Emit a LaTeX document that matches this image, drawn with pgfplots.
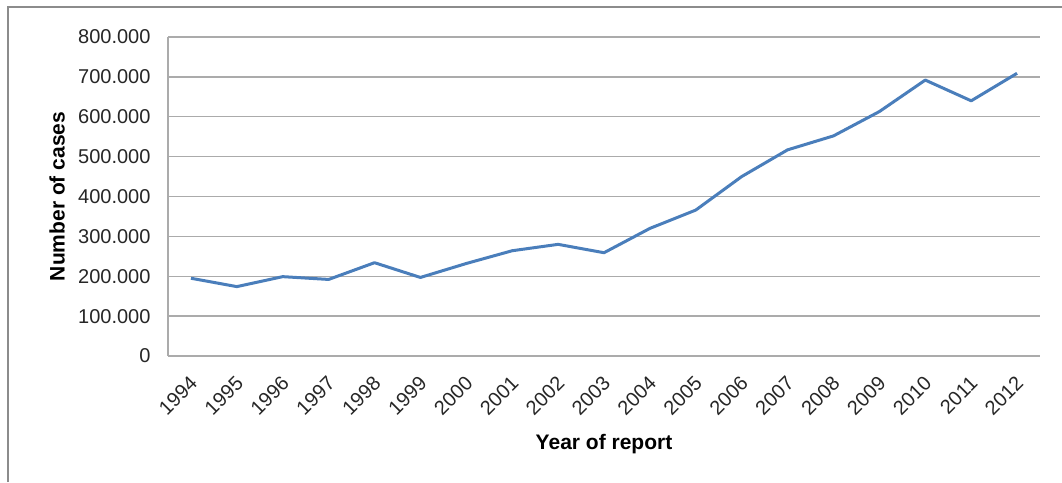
\documentclass[border=0pt]{standalone}
\usepackage{fontspec}
\setmainfont{Liberation Sans}
\usepackage{pgfplots}
\pgfplotsset{compat=1.18}
\definecolor{linecol}{HTML}{4A7EBB}
\definecolor{gridcol}{HTML}{ABABAB}
\definecolor{framecol}{HTML}{8C8C8C}
\begin{document}
\begin{tikzpicture}[x=1pt,y=1pt]
\path[use as bounding box] (0,0) rectangle (1062,482);
\draw[framecol, line width=2pt] (8,0) -- (8,475) -- (1062,475);
\begin{axis}[
  at={(168pt,126pt)}, anchor=south west,
  scale only axis, width=872pt, height=319pt,
  xmin=1993.5, xmax=2012.5, ymin=0, ymax=800000,
  axis x line*=bottom, axis y line*=left,
  axis line style={gridcol, line width=1.3pt, -},
  ytick={0,100000,200000,300000,400000,500000,600000,700000,800000},
  yticklabels={0,100.000,200.000,300.000,400.000,500.000,600.000,700.000,800.000},
  scaled y ticks=false,
  xtick={1994,1995,1996,1997,1998,1999,2000,2001,2002,2003,2004,2005,2006,2007,2008,2009,2010,2011,2012},
  xticklabels={1994,1995,1996,1997,1998,1999,2000,2001,2002,2003,2004,2005,2006,2007,2008,2009,2010,2011,2012},
  major tick length=0pt,
  ymajorgrids, grid style={gridcol, line width=1.3pt},
  tick label style={font=\fontsize{20}{24}\selectfont, text=black!85},
  yticklabel style={xshift=-14pt},
  xticklabel style={rotate=45, anchor=east, inner sep=0pt, xshift=-15pt, yshift=-19pt},
  every axis y label/.style={at={(rel axis cs:0,0.5)}, xshift=-111pt, rotate=90, anchor=center, font=\fontsize{21}{25}\bfseries},
  every axis x label/.style={at={(rel axis cs:0.5,0)}, yshift=-93pt, anchor=base, font=\fontsize{21}{25}\bfseries},
  ylabel={Number of cases},
  xlabel={Year of report},
  clip=false,
]
\addplot[linecol, line width=3pt, line join=round] coordinates {
(1994,195000) (1995,174000) (1996,199000) (1997,192000) (1998,234000)
(1999,197000) (2000,232000) (2001,264000) (2002,280000) (2003,259000)
(2004,320000) (2005,366000) (2006,450000) (2007,517000) (2008,552000)
(2009,613000) (2010,692000) (2011,640000) (2012,709000)
};
\end{axis}
\end{tikzpicture}
\end{document}
